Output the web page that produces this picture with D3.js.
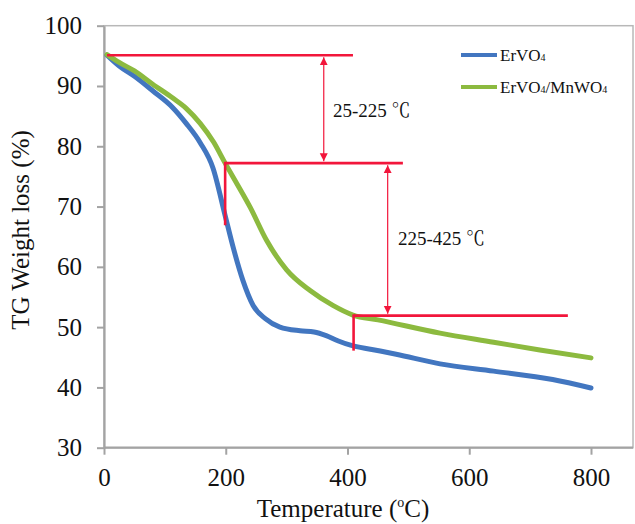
<!DOCTYPE html>
<html>
<head>
<meta charset="utf-8">
<script src="https://cdn.jsdelivr.net/npm/d3@7"></script>
<style>
  html, body { margin: 0; padding: 0; background: #fff; }
  svg { display: block; }
  text { font-family: "Liberation Serif", "Times New Roman", serif; fill: #111; }
</style>
</head>
<body>
<svg id="chart" width="635" height="524"></svg>
<script>
// TG curves: temperature (°C) and remaining weight (%)
const tempErVO4 = [5, 25, 50, 80, 113, 135, 158, 179, 199, 212, 228, 245, 265, 289, 322, 345, 365, 385, 405, 440, 480, 552, 640, 737, 800];
const weightErVO4 = [95.1, 93.3, 91.6, 89.2, 86.4, 83.8, 80.6, 76.4, 68.5, 63.3, 57.8, 53.6, 51.4, 50.0, 49.4, 49.2, 48.6, 47.7, 47.0, 46.3, 45.5, 43.9, 42.7, 41.3, 39.9];

const tempComposite = [5, 25, 50, 80, 113, 135, 158, 180, 199, 220, 240, 267, 300, 338, 376, 409, 450, 552, 640, 716, 800];
const weightComposite = [95.2, 93.9, 92.5, 90.3, 88.0, 86.3, 83.8, 80.7, 77.2, 73.5, 69.9, 64.4, 59.5, 56.1, 53.6, 52.0, 51.2, 49.0, 47.5, 46.2, 44.9];

const seriesNames = ["ErVO4", "ErVO4/MnWO4"];
const seriesColors = ["#4276c0", "#8cba3f"];

const xTicks = [0, 200, 400, 600, 800];
const yTicks = [30, 40, 50, 60, 70, 80, 90, 100];

// Weight-loss step markers (temperature, weight)
const stepLevels = [
  { x1: 5,   x2: 409, y: 95.1 },
  { x1: 199, x2: 491, y: 77.2 },
  { x1: 410, x2: 762, y: 51.9 }
];
const stepDrops = [
  { x: 199, y1: 77.2, y2: 66.9 },
  { x: 410, y1: 51.9, y2: 46.1 }
];
const rangeArrows = [
  { x: 361, y1: 95.1, y2: 77.2, range: "25-225",  lx: 376, ly: 86.0 },
  { x: 466, y1: 77.2, y2: 51.9, range: "225-425", lx: 483, ly: 64.8 }
];

const svg = d3.select("#chart");
const plotLeft = 104, plotRight = 633, plotTop = 25.7, plotBottom = 447.7;
const serif = "Liberation Serif, Times New Roman, serif";

const x = d3.scaleLinear().domain([0, 800]).range([plotLeft, 591]);
const y = d3.scaleLinear().domain([30, 100]).range([plotBottom, plotTop]);

const axisColor = "#a3a3a3";

// frame
svg.append("rect")
  .attr("x", plotLeft).attr("y", plotTop)
  .attr("width", plotRight - plotLeft).attr("height", plotBottom - plotTop)
  .attr("fill", "none").attr("stroke", "#b8b8b8").attr("stroke-width", 1.5);

// axes
const gx = svg.append("g").attr("transform", `translate(0,${plotBottom})`)
  .call(d3.axisBottom(x).tickValues(xTicks).tickSize(7).tickSizeOuter(0).tickPadding(14));
const gy = svg.append("g").attr("transform", `translate(${plotLeft},0)`)
  .call(d3.axisLeft(y).tickValues(yTicks).tickSize(7).tickSizeOuter(0).tickPadding(15));

[gx, gy].forEach(g => {
  g.select(".domain").attr("stroke", axisColor).attr("stroke-width", 2.2);
  g.selectAll(".tick line").attr("stroke", axisColor).attr("stroke-width", 2);
  g.selectAll(".tick text").attr("font-size", 25)
    .attr("font-family", serif).attr("fill", "#111");
});
gx.select(".domain").attr("d", `M${plotLeft},0H${plotRight}`);

// axis titles
const xt = svg.append("text").attr("x", 343).attr("y", 517)
  .attr("text-anchor", "middle").attr("font-size", 25).attr("font-family", serif);
xt.append("tspan").text("Temperature (");
xt.append("tspan").attr("font-size", 14).attr("dy", -10).text("o");
xt.append("tspan").attr("dy", 10).text("C)");

svg.append("text")
  .attr("transform", "translate(29,230) rotate(-90)")
  .attr("text-anchor", "middle").attr("font-size", 25).attr("font-family", serif)
  .text("TG Weight loss (%)");

// curves
const line = d3.line().x(d => x(d[0])).y(d => y(d[1])).curve(d3.curveMonotoneX);
const curves = [
  d3.zip(tempErVO4, weightErVO4),
  d3.zip(tempComposite, weightComposite)
];
curves.forEach((pts, i) => {
  svg.append("path").datum(pts)
    .attr("d", line)
    .attr("fill", "none")
    .attr("stroke", seriesColors[i])
    .attr("stroke-width", 5)
    .attr("stroke-linecap", "round")
    .attr("stroke-linejoin", "round");
});

// step markers
const red = "#f2163b";
svg.selectAll(".level").data(stepLevels).join("line")
  .attr("x1", d => x(d.x1)).attr("x2", d => x(d.x2))
  .attr("y1", d => y(d.y)).attr("y2", d => y(d.y))
  .attr("stroke", red).attr("stroke-width", 2.6);
svg.selectAll(".drop").data(stepDrops).join("line")
  .attr("x1", d => x(d.x)).attr("x2", d => x(d.x))
  .attr("y1", d => y(d.y1) - 1.3).attr("y2", d => y(d.y2))
  .attr("stroke", red).attr("stroke-width", 2.6);

// double-headed arrows
const defs = svg.append("defs");
defs.append("marker").attr("id", "head").attr("viewBox", "0 0 10 10")
  .attr("refX", 10).attr("refY", 5).attr("markerWidth", 8).attr("markerHeight", 9)
  .attr("markerUnits", "userSpaceOnUse")
  .attr("orient", "auto-start-reverse")
  .append("path").attr("d", "M0,0L10,5L0,10Z").attr("fill", red);

const arrows = svg.selectAll(".arrow").data(rangeArrows).join("g");
arrows.append("line")
  .attr("x1", d => x(d.x)).attr("x2", d => x(d.x))
  .attr("y1", d => y(d.y1) + 2).attr("y2", d => y(d.y2) - 2)
  .attr("stroke", red).attr("stroke-width", 1.2)
  .attr("marker-start", "url(#head)").attr("marker-end", "url(#head)");
const lbl = arrows.append("text")
  .attr("x", d => x(d.lx)).attr("y", d => y(d.ly))
  .attr("dy", "0.35em").attr("font-size", 19).attr("font-family", serif);
lbl.append("tspan").attr("font-family", serif).text(d => d.range + " ");
lbl.append("tspan").attr("font-family", "Noto Serif CJK SC, Noto Sans CJK SC, serif").text("℃");

// legend
const legend = svg.append("g");
seriesNames.forEach((name, i) => {
  const ly = 55 + i * 32;
  legend.append("line")
    .attr("x1", 461).attr("x2", 497).attr("y1", ly).attr("y2", ly)
    .attr("stroke", seriesColors[i]).attr("stroke-width", 4);
  const t = legend.append("text").attr("x", 500).attr("y", ly + 6)
    .attr("font-size", 17).attr("font-family", serif);
  name.split(/(4)/).filter(s => s.length).forEach(part => {
    if (part === "4") {
      t.append("tspan").attr("font-size", 10).text("4");
    } else {
      t.append("tspan").text(part);
    }
  });
});
</script>
</body>
</html>
